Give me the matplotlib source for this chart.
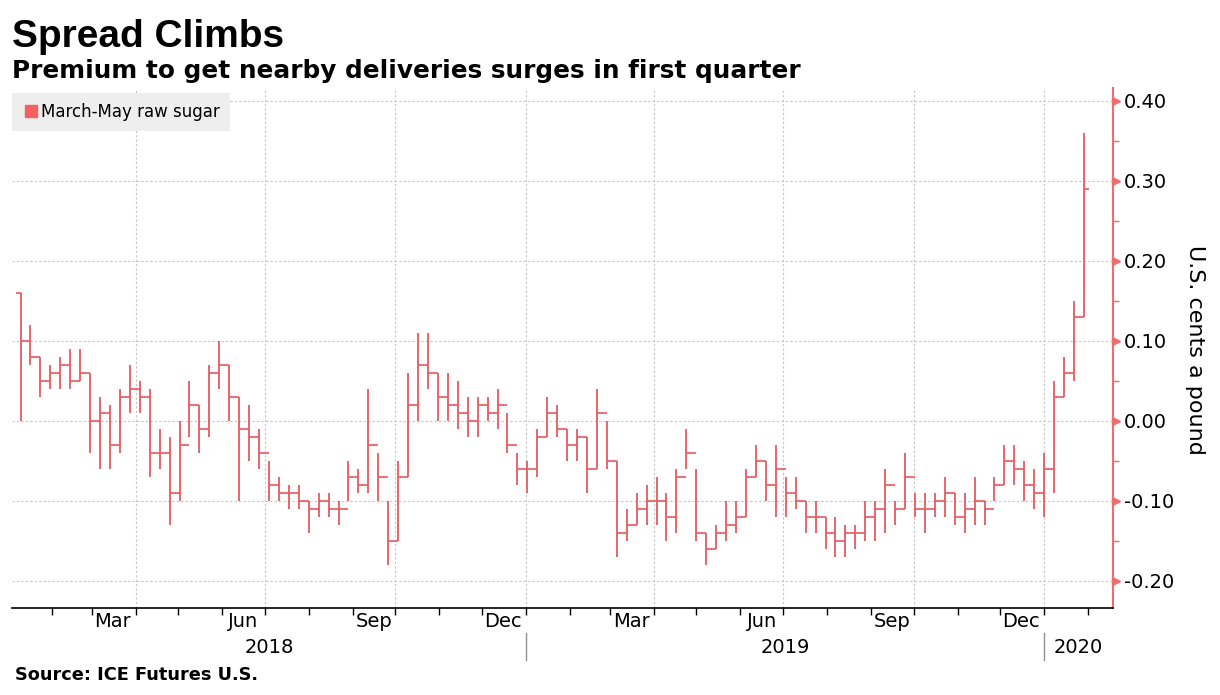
import numpy as np
import pandas as pd
import matplotlib
matplotlib.use("Agg")
import matplotlib.pyplot as plt
import matplotlib.dates as mdates
from matplotlib.ticker import MultipleLocator, FuncFormatter, NullFormatter
from matplotlib.transforms import blended_transform_factory
from matplotlib.lines import Line2D

# weekly bars (week starting Monday 2018-01-08), US cents a pound
opens = [0.16, 0.10, 0.08, 0.05, 0.06, 0.07, 0.05, 0.06, 0.00, 0.01, -0.03, 0.03,
         0.04, 0.03, -0.04, -0.04, -0.09, -0.03, 0.02, -0.01, 0.06, 0.07, 0.03, -0.01,
         -0.02, -0.04, -0.08, -0.09, -0.09, -0.10, -0.11, -0.10, -0.11, -0.11, -0.07, -0.08,
         -0.03, -0.07, -0.15, -0.07, 0.02, 0.07, 0.06, 0.03, 0.02, 0.01, 0.00, 0.02,
         0.01, 0.02, -0.03, -0.06, -0.06, -0.02, 0.01, -0.01, -0.03, -0.02, -0.06, 0.01,
         -0.05, -0.14, -0.13, -0.11, -0.10, -0.10, -0.12, -0.07, -0.04, -0.14, -0.16, -0.14,
         -0.13, -0.12, -0.07, -0.05, -0.08, -0.06, -0.09, -0.10, -0.12, -0.12, -0.14, -0.15,
         -0.14, -0.14, -0.12, -0.11, -0.08, -0.11, -0.07, -0.11, -0.11, -0.10, -0.09, -0.12,
         -0.11, -0.10, -0.11, -0.08, -0.05, -0.06, -0.08, -0.09, -0.06, 0.03, 0.06, 0.13]
highs = [0.16, 0.12, 0.08, 0.07, 0.08, 0.09, 0.09, 0.06, 0.03, 0.02, 0.04, 0.07,
         0.05, 0.04, -0.01, -0.02, 0.00, 0.05, 0.02, 0.07, 0.10, 0.07, 0.03, 0.02,
         -0.01, -0.05, -0.07, -0.08, -0.08, -0.10, -0.09, -0.09, -0.10, -0.05, -0.06, 0.04,
         -0.04, -0.10, -0.05, 0.06, 0.11, 0.11, 0.06, 0.06, 0.05, 0.03, 0.03, 0.03,
         0.04, 0.01, -0.04, -0.05, -0.01, 0.03, 0.02, -0.01, -0.01, -0.02, 0.04, 0.00,
         -0.05, -0.11, -0.09, -0.08, -0.07, -0.09, -0.06, -0.01, -0.06, -0.14, -0.13, -0.10,
         -0.10, -0.06, -0.03, -0.05, -0.03, -0.07, -0.07, -0.10, -0.10, -0.12, -0.12, -0.13,
         -0.13, -0.10, -0.10, -0.06, -0.10, -0.04, -0.09, -0.09, -0.09, -0.07, -0.09, -0.09,
         -0.07, -0.10, -0.07, -0.03, -0.03, -0.05, -0.06, -0.04, 0.05, 0.08, 0.15, 0.36]
lows = [0.00, 0.07, 0.03, 0.04, 0.04, 0.04, 0.05, -0.04, -0.06, -0.06, -0.04, 0.01,
        0.01, -0.07, -0.06, -0.13, -0.10, -0.02, -0.04, -0.02, 0.04, 0.00, -0.10, -0.05,
        -0.06, -0.10, -0.10, -0.11, -0.11, -0.14, -0.12, -0.12, -0.13, -0.10, -0.09, -0.09,
        -0.10, -0.18, -0.15, -0.07, 0.00, 0.04, 0.00, 0.00, -0.01, -0.02, -0.02, 0.00,
        -0.01, -0.04, -0.08, -0.09, -0.07, -0.02, -0.02, -0.05, -0.05, -0.09, -0.06, -0.06,
        -0.17, -0.15, -0.13, -0.13, -0.13, -0.15, -0.14, -0.06, -0.15, -0.18, -0.16, -0.15,
        -0.14, -0.12, -0.07, -0.10, -0.12, -0.12, -0.11, -0.14, -0.14, -0.16, -0.17, -0.17,
        -0.16, -0.15, -0.15, -0.14, -0.13, -0.11, -0.12, -0.14, -0.12, -0.12, -0.13, -0.14,
        -0.13, -0.13, -0.10, -0.08, -0.08, -0.10, -0.11, -0.12, -0.09, 0.03, 0.05, 0.13]
closes = [0.10, 0.08, 0.05, 0.06, 0.07, 0.05, 0.06, 0.00, 0.01, -0.03, 0.03, 0.04,
          0.03, -0.04, -0.04, -0.09, -0.03, 0.02, -0.01, 0.06, 0.07, 0.03, -0.01, -0.02,
          -0.04, -0.08, -0.09, -0.09, -0.10, -0.11, -0.10, -0.11, -0.11, -0.07, -0.08, -0.03,
          -0.07, -0.15, -0.07, 0.02, 0.07, 0.06, 0.03, 0.02, 0.01, 0.00, 0.02, 0.01,
          0.02, -0.03, -0.06, -0.06, -0.02, 0.01, -0.01, -0.03, -0.02, -0.06, 0.01, -0.05,
          -0.14, -0.13, -0.11, -0.10, -0.10, -0.12, -0.07, -0.04, -0.14, -0.16, -0.14, -0.13,
          -0.12, -0.07, -0.05, -0.08, -0.06, -0.09, -0.10, -0.12, -0.12, -0.14, -0.15, -0.14,
          -0.14, -0.12, -0.11, -0.08, -0.11, -0.07, -0.11, -0.11, -0.10, -0.09, -0.12, -0.11,
          -0.10, -0.11, -0.08, -0.05, -0.06, -0.08, -0.09, -0.06, 0.03, 0.06, 0.13, 0.29]

series_name = "March-May raw sugar"
title = "Spread Climbs"
subtitle = "Premium to get nearby deliveries surges in first quarter"
source = "Source: ICE Futures U.S."
ylabel = "U.S. cents a pound"

bar_color = "#e65a5f"
axis_red = "#f26a6a"
grid_color = "#c4c4c4"

weeks = pd.date_range("2018-01-08", periods=len(highs), freq="W-MON")
xm = mdates.date2num(weeks + pd.Timedelta(days=2))

fig = plt.figure(figsize=(12.2, 6.95), dpi=100)
ax = fig.add_axes([12 / 1220, 1 - 608 / 695, (1113 - 12) / 1220, (608 - 88) / 695])

ax.vlines(xm, lows, highs, color=bar_color, lw=1.3, zorder=3)
ax.hlines(opens, xm - 3.5, xm, color=bar_color, lw=1.2, zorder=3)
ax.hlines(closes, xm, xm + 3.5, color=bar_color, lw=1.2, zorder=3)

ax.set_xlim(mdates.date2num(pd.Timestamp("2018-01-04")),
            mdates.date2num(pd.Timestamp("2020-02-18 12:00")))
ax.set_ylim(-0.234, 0.416)

# y axis on the right
ax.yaxis.tick_right()
ax.yaxis.set_major_locator(MultipleLocator(0.1))
ax.yaxis.set_minor_locator(MultipleLocator(0.05))
ax.yaxis.set_major_formatter(FuncFormatter(lambda v, p: f"{round(v, 2) + 0:.2f}"))
ax.tick_params(axis="y", which="major", length=0, pad=8, labelsize=14, labelcolor="black")
ax.tick_params(axis="y", which="minor", length=4, width=1, color=axis_red)
ax.yaxis.grid(True, which="major", color=grid_color, ls=(0, (2, 2)), lw=0.8)

yt = [t for t in ax.get_yticks() if -0.234 < t < 0.416]
trans_y = blended_transform_factory(ax.transAxes, ax.transData)
ax.plot([1.003] * len(yt), yt, ls="none", marker=">", ms=6, color=axis_red,
        transform=trans_y, clip_on=False, zorder=5)

# x axis: monthly ticks, labels in the middle of Mar/Jun/Sep/Dec
ax.xaxis.set_major_locator(mdates.MonthLocator())
ax.xaxis.set_major_formatter(NullFormatter())
ax.xaxis.set_minor_locator(mdates.MonthLocator(bymonth=[3, 6, 9, 12], bymonthday=16))
ax.xaxis.set_minor_formatter(mdates.DateFormatter("%b"))
ax.tick_params(axis="x", which="major", length=5, width=1, color="black", direction="out")
ax.tick_params(axis="x", which="minor", length=0, pad=3, labelsize=14)

for d in pd.date_range("2018-04-01", "2020-01-01", freq="QS"):
    ax.axvline(mdates.date2num(d), color=grid_color, ls=(0, (2, 2)), lw=0.8, zorder=0)

trans_x = blended_transform_factory(ax.transData, ax.transAxes)
x0, x1 = ax.get_xlim()
y19 = mdates.date2num(pd.Timestamp("2019-01-01"))
y20 = mdates.date2num(pd.Timestamp("2020-01-01"))
for xc, lab in [((x0 + y19) / 2, "2018"), ((y19 + y20) / 2, "2019"), ((y20 + x1) / 2, "2020")]:
    ax.text(xc, -0.076, lab, transform=trans_x, ha="center", va="center", fontsize=14)
for xs in [y19, y20]:
    ax.plot([xs, xs], [-0.048, -0.1], color="#909090", lw=1, transform=trans_x, clip_on=False)

for s in ["top", "left"]:
    ax.spines[s].set_visible(False)
ax.spines["right"].set_color(axis_red)
ax.spines["right"].set_linewidth(1.5)
ax.spines["bottom"].set_color("black")
ax.spines["bottom"].set_linewidth(1.2)

handle = Line2D([], [], ls="none", marker="s", ms=8.5, color="#f4615e")
leg = ax.legend([handle], [series_name], loc="upper left", bbox_to_anchor=(0, 1 - 5 / 520),
                borderaxespad=0, frameon=True, fancybox=False, fontsize=12,
                handletextpad=0.05, borderpad=0.6, handlelength=1.1)
leg.get_frame().set_facecolor("#eeeeee")
leg.get_frame().set_edgecolor("none")
leg.get_frame().set_alpha(1)

fig.text(12 / 1220, 1 - 47 / 695, title, fontsize=28, fontweight="bold",
         family="Liberation Sans", va="baseline")
fig.text(12 / 1220, 1 - 78 / 695, subtitle, fontsize=17.8, fontweight="bold",
         family="DejaVu Sans", va="baseline")
fig.text(15 / 1220, 1 - 680 / 695, source, fontsize=12.8, fontweight="bold",
         family="DejaVu Sans", va="baseline")
fig.text(1195 / 1220, 1 - 350 / 695, ylabel, fontsize=16, rotation=270,
         ha="center", va="center")

fig.savefig("out.png", dpi=100, facecolor="white")
